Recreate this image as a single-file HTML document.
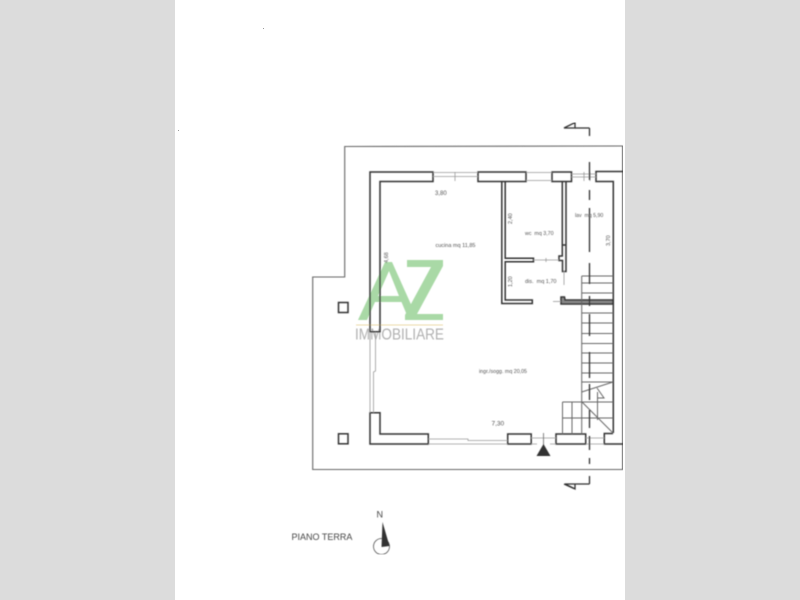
<!DOCTYPE html>
<html>
<head>
<meta charset="utf-8">
<style>
html,body{margin:0;padding:0;width:800px;height:600px;overflow:hidden;background:#dcdcdc}
svg{display:block;position:absolute;left:0;top:0}
text{font-family:"Liberation Sans",sans-serif;fill:#555}
</style>
</head>
<body>
<svg width="800" height="600" viewBox="0 0 800 600" xmlns="http://www.w3.org/2000/svg">
<defs><filter id="b" x="0" y="0" width="100%" height="100%"><feGaussianBlur stdDeviation="0.45"/></filter></defs>
<rect x="175" y="0" width="450" height="600" fill="#ffffff"/>
<g filter="url(#b)">
<!-- logo -->
<path fill="#a9d9a6" fill-rule="evenodd" d="M358,320 L385,262 L392,262 L418,320 L409,320 L401.500,302 L375,302 L367,320 Z M378,296 L399,296 L389,271 Z"/>
<polygon fill="#a9d9a6" points="407,260 443,260 443,266 417,314 443,314 443,320 405,320 405,315 431,267 407,267"/>
<rect x="356" y="324.500" width="87" height="1" fill="#ecd9a8"/>
<text x="355" y="339.500" font-size="15.500" textLength="89" lengthAdjust="spacingAndGlyphs" style="fill:#b0b0b0">IMMOBILIARE</text>

<!-- outer terrace -->
<path d="M623,146 L344.700,146.500 L344.700,277 L312.700,277 L312.700,469.500 L623,469.500" fill="none" stroke="#666" stroke-width="1.100"/>
<path d="M623,146 V469.500" fill="none" stroke="#444" stroke-width="1.500"/>

<g fill="none" stroke="#333" stroke-width="1.500">
<!-- main walls -->
<path d="M433,172 H370 V331.700 H380 V181.500 H433 Z"/>
<rect x="478" y="172" width="48" height="9.500"/>
<rect x="552" y="172" width="19.500" height="9.500"/>
<path d="M623,171.500 H596 V181.500 H613.300 V433"/>
<path d="M370,412.700 H380 V434 H428.300 V444 H370 Z"/>
<rect x="507.700" y="434" width="23.500" height="10"/>
<rect x="556" y="434" width="29.700" height="10"/>
<path d="M613,433.500 H604.300 V444 H623"/>
<!-- WC walls -->
<path d="M501.800,181.500 V303.500 H532.300 V300 H505.200 V261.700 H533.500 V258.300 H505.200 V181.500"/>
<path d="M562.300,181.500 V256 H559 V260.500 H562.500 V271.500 H566 V181.500"/>
<path d="M562.300,245 H566"/>
<!-- lower stub -->
<path d="M561,302 V297 L564.500,297 L565,300 H613 V304 H561 Z" fill="#888"/>
</g>

<!-- thin window lines -->
<g fill="none" stroke="#999" stroke-width="0.800">
<path d="M433,172.500 H478 M433,176.500 H478 M455,172 V181"/>
<path d="M526,172.500 H552 M526,180.500 H552 M571.500,174 H596 M571.500,177 H596 M584,172 V181 M590,172 V181"/>
<path d="M370,332 V412.700 M375.500,332 V371 L373.500,372 V412.700"/>
<path d="M428.300,439 H468 V440.500 H507.700 M428.300,444 H507.700"/>
<path d="M531,438 H556 M531,444 H537 M550,444 H556"/>
<path d="M585.700,438 H604.300 M585.700,444 H604.300"/>
<path d="M533.500,260 H559 M546,258 V262"/>
<path d="M564,271 V285"/>
<path d="M553,301.500 H561"/>
</g>

<!-- stairs -->
<g fill="none" stroke="#666" stroke-width="1">
<path d="M581.700,276 V434"/>
<path d="M581.700,276 H613 M581.700,283 H613 M581.700,293 H613 M581.700,313 H613 M581.700,323 H613 M581.700,333.500 H613 M581.700,343.500 H613 M581.700,353 H613 M581.700,363 H613 M581.700,373 H613 M581.700,382 H613"/>
<path d="M581.700,392 L613,382"/>
<path d="M582,402 H613 M562.500,402 H582 M562.500,402 V434 M572,402 V434 M562.500,418 H613"/>
<path d="M582,402 L613,433"/>
<path d="M597.500,392 V420"/>
<path d="M597,388 L604,398 L597,398"/>
</g>

<!-- section axis -->
<g fill="none" stroke="#333" stroke-width="1.300">
<path d="M589.500,128 V136 M589.500,162 V180 M589.500,190 V200 M589.500,208 V252 M589.500,263 V284 M589.500,296 V306 M589.500,314 V336 M589.500,352 V378 M589.500,384 V400 M589.500,410 V428 M589.500,436 V450 M589.500,458 V464 M589.500,476 V484"/>
<path d="M589.500,484 H565 M589.500,128 H575"/>
<path d="M564,128 L575,122.500 V128 Z M565,484 L575,489 V484"/>
<path d="M564,484 L574,488.500"/>
</g>

<!-- entrance -->
<path d="M543.500,433 V446" stroke="#666" stroke-width="0.800"/>
<polygon points="543.500,444 550.500,456 536.500,456" fill="#333"/>

<!-- pillars -->
<g fill="none" stroke="#333" stroke-width="1.500">
<rect x="338.500" y="302.500" width="9.500" height="10"/>
<rect x="338.500" y="433.800" width="9.500" height="10"/>
</g>

<!-- north -->
<circle cx="381.500" cy="546.500" r="8" fill="none" stroke="#555" stroke-width="0.800"/>
<polygon points="382.500,522 389.500,546 381.500,547" fill="#333"/>
<text x="376.500" y="517.500" font-size="9" style="fill:#444">N</text>
<text x="291.500" y="540" font-size="9" style="fill:#444">PIANO TERRA</text>

<!-- labels -->
<text x="435" y="195" font-size="6">3,80</text>
<text x="435.500" y="247" font-size="5.500">cucina mq 11,85</text>
<text x="575" y="217" font-size="5.200">lav&#160;&#160;mq 5,90</text>
<text x="525" y="235" font-size="5.300">wc&#160;&#160;mq 3,70</text>
<text x="525" y="283" font-size="5.500">dis.&#160;&#160;mq 1,70</text>
<text x="479" y="373" font-size="5.300">ingr./sogg. mq 20,05</text>
<text x="491.500" y="425.500" font-size="6.500">7,30</text>
<text transform="translate(512,224) rotate(-90)" font-size="5.500">2,40</text>
<text transform="translate(512,287) rotate(-90)" font-size="5.500">1,20</text>
<text transform="translate(610,246) rotate(-90)" font-size="5.500">3,70</text>
<text transform="translate(388,263) rotate(-90)" font-size="5.500">4,68</text>
</g>
<rect x="263" y="28" width="1" height="1" fill="#999"/>
<rect x="178" y="130" width="1" height="1" fill="#999"/>
</svg>
</body>
</html>
